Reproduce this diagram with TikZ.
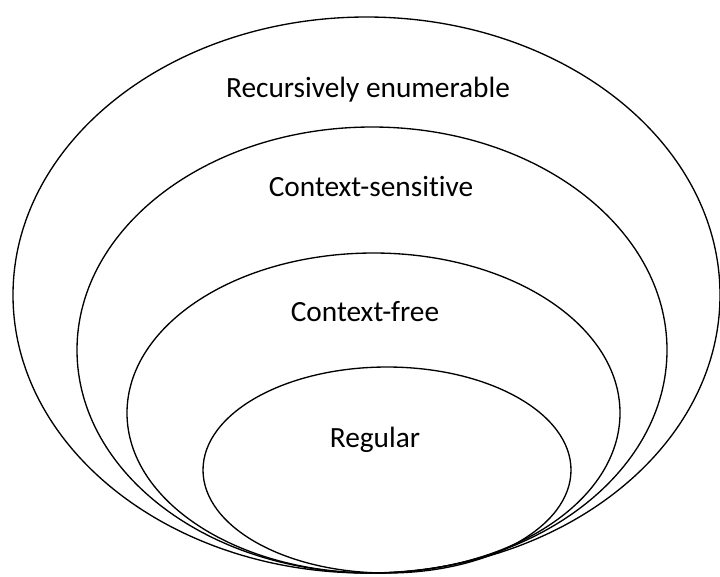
\documentclass[tikz,border=0pt]{standalone}
\usepackage{fontspec}
\setmainfont[Ligatures=NoCommon]{Carlito}
\begin{document}
\begin{tikzpicture}[x=0.75pt,y=-0.75pt,
  ring/.style={draw=black,line width=1pt},
  lbl/.style={font=\fontsize{22}{26}\selectfont,inner sep=0pt}]
\useasboundingbox (0,0) rectangle (720,576);
\draw[ring] (366.5,295) ellipse [x radius=353.5, y radius=278];
\draw[ring] (372,350) ellipse [x radius=295, y radius=223];
\draw[ring] (373.5,413) ellipse [x radius=246.5, y radius=160];
\draw[ring] (387,470) ellipse [x radius=184, y radius=103];
\node[lbl] (re) at (368,90) {Recursively enumerable};
\node[lbl] (cs) at (371,187) {Context-sensitive};
\node[lbl] (cf) at (365,312) {Context-free};
\node[lbl] (rg) at (375,440) {Regular};
\end{tikzpicture}
\end{document}
